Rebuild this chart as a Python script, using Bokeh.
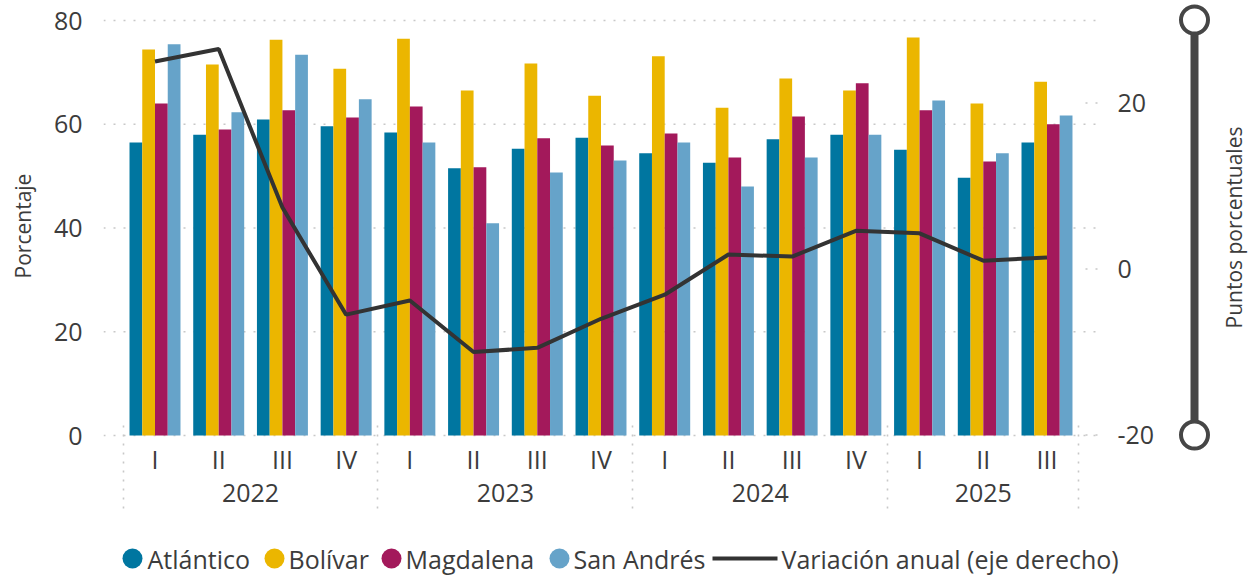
import numpy as np
from bokeh.plotting import figure
from bokeh.models import Range1d, LinearAxis, FixedTicker
from bokeh.layouts import column
from bokeh.core.properties import value
from bokeh.embed import file_html
from bokeh.resources import INLINE

# ---------------- data ----------------
years = ["2022", "2023", "2024", "2025"]
quarters_per_year = [4, 4, 4, 3]
quarter_labels = ["I", "II", "III", "IV", "I", "II", "III", "IV",
                  "I", "II", "III", "IV", "I", "II", "III"]
atlantico = [56.5, 58.0, 60.9, 59.6, 58.4, 51.5, 55.3, 57.4, 54.4, 52.6, 57.1, 58.0, 55.1, 49.7, 56.5]
bolivar = [74.4, 71.5, 76.3, 70.7, 76.5, 66.5, 71.7, 65.5, 73.1, 63.2, 68.8, 66.5, 76.7, 64.0, 68.2]
magdalena = [64.0, 59.0, 62.7, 61.3, 63.4, 51.7, 57.3, 55.9, 58.2, 53.6, 61.5, 67.9, 62.7, 52.8, 60.0]
san_andres = [75.4, 62.3, 73.4, 64.8, 56.5, 40.9, 50.7, 53.0, 56.5, 48.0, 53.6, 58.0, 64.6, 54.4, 61.7]
variacion = [25.0, 26.5, 7.4, -5.5, -3.8, -10.0, -9.5, -6.0, -3.1, 1.75, 1.5, 4.6, 4.3, 1.0, 1.4]
series_names = ["Atlántico", "Bolívar", "Magdalena", "San Andrés"]
line_name = "Variación anual (eje derecho)"
left_ticks = [0, 20, 40, 60, 80]
right_ticks = [-20, 0, 20]
right_axis_min, right_axis_max = -20, 30

# ---------------- style ----------------
COLORS = ["#0076A0", "#EBB600", "#A3195B", "#66A3C9"]
LINE_COLOR = "#333333"
TEXT_COLOR = "#3c3c3c"
GRID_COLOR = "#c8c8c8"
SLIDER_COLOR = "#464646"
FONT = "Open Sans"
TICK_FS = "25px"
TITLE_FS = "21px"
LEGEND_FS = "25px"

W = 1248
H_MAIN = 540
H_LEG = 38

# screen geometry (px) used to build the ranges
CAT_PX = 63.714
X0_PX = 154.5
def px_to_x(px):
    return (px - X0_PX) / CAT_PX

FRAME_L, FRAME_R, FRAME_T, FRAME_B = 103, W, 0, 451
Y0_PX, Y_SCALE = 435.0, 5.1875
R0_PX, R_SCALE = 268.5, 8.3

x_idx = np.arange(len(quarter_labels))
p = figure(width=W, height=H_MAIN, output_backend="svg", toolbar_location=None,
           x_range=Range1d(px_to_x(FRAME_L), px_to_x(FRAME_R)),
           y_range=Range1d((Y0_PX - FRAME_B) / Y_SCALE, (Y0_PX - FRAME_T) / Y_SCALE),
           min_border_left=FRAME_L, min_border_right=0, min_border_top=0,
           min_border_bottom=H_MAIN - FRAME_B)
p.extra_y_ranges = {"right": Range1d((R0_PX - FRAME_B) / R_SCALE, (R0_PX - FRAME_T) / R_SCALE)}
p.outline_line_color = None
p.xgrid.visible = False
p.ygrid.visible = False

# gridlines (left axis ticks), dotted
gx0, gx1 = px_to_x(FRAME_L), px_to_x(1096)
p.segment(x0=[gx0] * len(left_ticks), x1=[gx1] * len(left_ticks), y0=left_ticks, y1=left_ticks,
          line_color=GRID_COLOR, line_width=1.6, line_dash="2 8")
# right axis grid stubs
p.segment(x0=[px_to_x(1085)] * len(right_ticks), x1=[px_to_x(1099)] * len(right_ticks),
          y0=right_ticks, y1=right_ticks, y_range_name="right",
          line_color=GRID_COLOR, line_width=1.6, line_dash="2 8")

# bars
offsets = [-0.3, -0.1, 0.1, 0.3]
for vals, off, col in zip([atlantico, bolivar, magdalena, san_andres], offsets, COLORS):
    p.vbar(x=x_idx + off, top=vals, bottom=0, width=0.2, fill_color=col, line_color=None)

# line on right axis
p.line(x=x_idx, y=variacion, y_range_name="right", line_color=LINE_COLOR, line_width=4)

# left axis
ya = p.yaxis[0]
ya.ticker = FixedTicker(ticks=left_ticks)
ya.axis_line_color = None
ya.major_tick_out = 0
ya.major_tick_in = 0
ya.minor_tick_out = 0
ya.minor_tick_in = 0
ya.major_label_standoff = 21
ya.major_label_text_font = FONT
ya.major_label_text_font_size = TICK_FS
ya.major_label_text_color = TEXT_COLOR
ya.axis_label = "Porcentaje"
ya.axis_label_text_font = FONT
ya.axis_label_text_font_size = TITLE_FS
ya.axis_label_text_font_style = "normal"
ya.axis_label_text_color = TEXT_COLOR
ya.axis_label_standoff = 14

# bottom axis: quarters
bounds = np.cumsum([0] + quarters_per_year) - 0.5
xa = p.xaxis[0]
xa.ticker = FixedTicker(ticks=list(x_idx), minor_ticks=[])
xa.major_label_overrides = {int(i): q for i, q in zip(x_idx, quarter_labels)}
xa.axis_line_color = None
xa.major_tick_out = 0
xa.major_tick_in = 0
xa.minor_tick_out = 0
xa.minor_tick_in = 0
xa.major_label_standoff = -10
xa.major_label_text_font = FONT
xa.major_label_text_font_size = TICK_FS
xa.major_label_text_color = TEXT_COLOR

# year axis
year_centers = [(bounds[k] + bounds[k + 1]) / 2 for k in range(len(years))]
yr_axis = LinearAxis(ticker=FixedTicker(ticks=year_centers, minor_ticks=[]),
                     major_label_overrides={float(c): y for c, y in zip(year_centers, years)},
                     axis_line_color=None, major_tick_out=0, major_tick_in=0,
                     minor_tick_out=0, minor_tick_in=0, major_label_standoff=5,
                     major_label_text_font=FONT, major_label_text_font_size=TICK_FS,
                     major_label_text_color=TEXT_COLOR)
p.add_layout(yr_axis, "below")

# year separators: dotted ticks of a label-less axis, reaching up to the bars
sep_axis = LinearAxis(ticker=FixedTicker(ticks=list(bounds), minor_ticks=[]),
                      major_label_overrides={float(b): "" for b in bounds},
                      major_label_text_font_size="0px", major_label_standoff=0,
                      axis_line_color=None, major_tick_in=81, major_tick_out=4,
                      minor_tick_in=0, minor_tick_out=0,
                      major_tick_line_color=GRID_COLOR, major_tick_line_width=1.6,
                      major_tick_line_dash="2 7")
p.add_layout(sep_axis, "below")

# right axis: tick labels, slider decoration and title
p.text(x=[px_to_x(1117)] * len(right_ticks), y=right_ticks, text=[str(t) for t in right_ticks],
       y_range_name="right", text_align="left", text_baseline="middle",
       text_font=value(FONT), text_font_size=TICK_FS, text_color=TEXT_COLOR)
sx = px_to_x(1194)
p.segment(x0=[sx], x1=[sx], y0=[right_axis_min], y1=[right_axis_max], y_range_name="right",
          line_color=SLIDER_COLOR, line_width=8)
p.scatter(x=[sx, sx], y=[right_axis_min, right_axis_max], y_range_name="right", size=27,
          marker="circle", fill_color="white", line_color=SLIDER_COLOR, line_width=4)
p.text(x=[px_to_x(1233)], y=[(right_axis_min + right_axis_max) / 2], text=["Puntos porcentuales"],
       y_range_name="right", angle=np.pi / 2, text_align="center", text_baseline="middle",
       text_font=value(FONT), text_font_size=TITLE_FS, text_color=TEXT_COLOR)

# ---------------- legend strip ----------------
# the column aligns this strip's frame with the main frame, so its x range starts at FRAME_L
leg = figure(width=W, height=H_LEG, output_backend="svg", toolbar_location=None,
             x_range=Range1d(FRAME_L, W), y_range=Range1d(H_MAIN + H_LEG, H_MAIN),
             x_axis_type=None, y_axis_type=None, min_border=0,
             min_border_left=FRAME_L, min_border_right=0)
leg.outline_line_color = None
leg.xgrid.visible = False
leg.ygrid.visible = False
ly = 558
circle_x = [132, 274, 391, 559]
text_x = [147, 288, 405, 573]
leg.scatter(x=circle_x, y=[ly] * 4, size=20, marker="circle", fill_color=COLORS, line_color=None)
leg.text(x=text_x + [781], y=[ly] * 5, text=series_names + [line_name],
         text_align="left", text_baseline="middle",
         text_font=value(FONT), text_font_size=LEGEND_FS, text_color=TEXT_COLOR)
leg.segment(x0=[712], x1=[777], y0=[ly], y1=[ly], line_color=LINE_COLOR, line_width=4)

layout = column(p, leg, spacing=0)
open("out.html", "w").write(file_html(layout, INLINE))
